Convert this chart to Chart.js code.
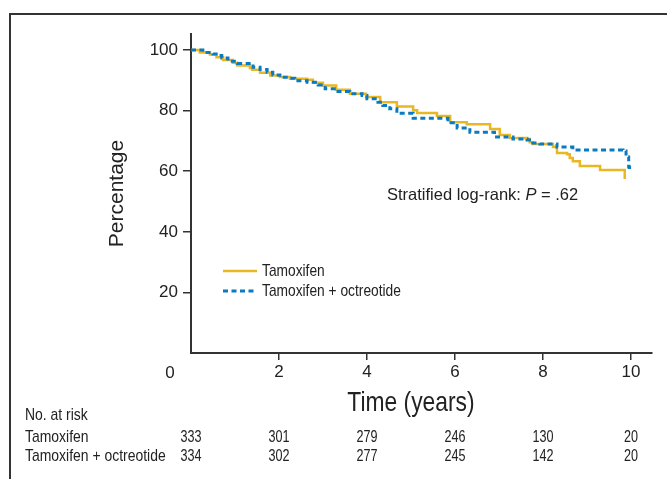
<!DOCTYPE html>
<html>
<head>
<meta charset="utf-8">
<script src="https://cdn.jsdelivr.net/npm/chart.js@4.4.1/dist/chart.umd.min.js"></script>
<style>
  html, body { margin: 0; padding: 0; background: #fff; }
  #wrap { width: 667px; height: 479px; }
</style>
</head>
<body>
<div id="wrap"><canvas id="km" width="667" height="479"></canvas></div>
<script>
'use strict';

// Kaplan-Meier steps: time (years) -> percentage
let tamT = [0, 0.2, 0.43, 0.58, 0.73, 0.95, 1.05, 1.34, 1.39, 1.57, 1.8, 2.02, 2.25, 2.64, 2.77, 3.0, 3.3, 3.61, 3.98, 4.3, 4.68, 5.05, 5.14, 5.59, 5.89, 6.27, 6.8, 7.02, 7.25, 7.64, 7.7, 7.77, 8.23, 8.32, 8.55, 8.61, 8.68, 8.84, 9.3, 9.86]
let tamV = [100, 99.2, 98.5, 97.6, 96.7, 95.8, 94.9, 94.1, 93.5, 92.5, 91.6, 91.1, 90.5, 90.2, 89.2, 88.3, 86.9, 85.6, 84.5, 82.8, 81.4, 80.1, 79.2, 78.2, 76.2, 75.5, 73.9, 72.0, 71.0, 70.6, 69.6, 69.0, 68.0, 66.0, 65.6, 64.4, 63.3, 61.7, 60.4, 57.4]

let octT = [0, 0.27, 0.5, 0.61, 0.7, 0.84, 1.05, 1.39, 1.41, 1.57, 1.73, 1.86, 2.02, 2.25, 2.36, 2.64, 2.89, 3.05, 3.3, 3.61, 3.89, 4.0, 4.25, 4.36, 4.52, 4.68, 5.05, 5.84, 6.05, 6.34, 6.9, 7.32, 7.64, 7.77, 7.93, 8.32, 8.68, 9.82, 9.89, 9.95, 9.97]
let octV = [100, 99.2, 98.7, 98.2, 97.4, 96.3, 95.6, 95.4, 94.3, 93.6, 92.7, 91.8, 91.0, 90.7, 89.9, 89.4, 88.5, 87.2, 86.3, 85.6, 85.0, 83.9, 82.8, 81.7, 80.6, 79.1, 77.5, 76.0, 74.3, 72.9, 71.3, 70.6, 70.3, 69.3, 69.0, 68.0, 67.0, 66.7, 64.7, 61.4, 60.0]

let xTicks = [2, 4, 6, 8, 10]
let yTicks = [20, 40, 60, 80, 100]

// number at risk table
let riskTimes = [0, 2, 4, 6, 8, 10]
let riskTam = [333, 301, 279, 246, 130, 20]
let riskOct = [334, 302, 277, 245, 142, 20]

let names = ['Tamoxifen', 'Tamoxifen + octreotide']
let pText = ['Stratified log-rank: ', 'P', ' = .62']

const SANS = "'Liberation Sans', Arial, sans-serif"
const YELLOW = '#e9b722'
const BLUE = '#0a7bc2'
const INK = '#333'
const TXT = '#222'

function pts(ts, vs) {
    let out = []
    for (let i = 0; i < ts.length; i++) {
        out.push({x: ts[i], y: vs[i]})
    }
    return out
}

// condensed look: regular face squeezed horizontally
function narrowText(ctx, text, x, y, size, squeeze, align) {
    ctx.save()
    ctx.font = size + 'px ' + SANS
    ctx.textAlign = align || 'left'
    ctx.textBaseline = 'middle'
    ctx.translate(x, y)
    ctx.scale(squeeze, 1)
    ctx.fillText(text, 0, 0)
    ctx.restore()
}

let extras = {
    id: 'extras',
    beforeDraw: function (chart) {
        let ctx = chart.ctx
        // figure frame (left and top only)
        ctx.save()
        ctx.strokeStyle = INK
        ctx.lineWidth = 2
        ctx.beginPath()
        ctx.moveTo(10, 479)
        ctx.lineTo(10, 14)
        ctx.lineTo(667, 14)
        ctx.stroke()
        ctx.restore()
    },
    afterDraw: function (chart) {
        let ctx = chart.ctx
        let xs = chart.scales.x
        let ys = chart.scales.y
        ctx.save()
        ctx.fillStyle = TXT

        // the "0" label sits left of the origin
        ctx.font = '17px ' + SANS
        ctx.textAlign = 'center'
        ctx.textBaseline = 'middle'
        ctx.fillText('0', xs.getPixelForValue(0) - 21, 373)

        // x axis title
        narrowText(ctx, 'Time (years)', xs.getPixelForValue(5), 403, 28, 0.815, 'center')

        // legend
        let lx = 223
        let ly = [271, 291]
        let ds = chart.data.datasets
        for (let i = 0; i < 2; i++) {
            let d = ds[i]
            ctx.strokeStyle = d.borderColor
            ctx.lineWidth = d.borderWidth
            ctx.setLineDash(d.borderDash || [])
            ctx.beginPath()
            ctx.moveTo(lx, ly[i])
            ctx.lineTo(lx + 34, ly[i])
            ctx.stroke()
            ctx.setLineDash([])
            narrowText(ctx, d.label, lx + 39, ly[i], 17, 0.81, 'left')
        }

        // log-rank annotation
        let ax = 387
        let ay = 195
        ctx.textAlign = 'left'
        ctx.font = '16.5px ' + SANS
        ctx.fillText(pText[0], ax, ay)
        ax += ctx.measureText(pText[0]).width
        ctx.font = 'italic 16.5px ' + SANS
        ctx.fillText(pText[1], ax, ay)
        ax += ctx.measureText(pText[1]).width
        ctx.font = '16.5px ' + SANS
        ctx.fillText(pText[2], ax, ay)

        // number at risk
        let rowY = [437, 456]
        narrowText(ctx, 'No. at risk', 25, 415, 17, 0.82, 'left')
        narrowText(ctx, names[0], 25, rowY[0], 17, 0.82, 'left')
        narrowText(ctx, names[1], 25, rowY[1], 17, 0.82, 'left')
        for (let i = 0; i < riskTimes.length; i++) {
            let px = xs.getPixelForValue(riskTimes[i])
            narrowText(ctx, String(riskTam[i]), px, rowY[0], 17, 0.74, 'center')
            narrowText(ctx, String(riskOct[i]), px, rowY[1], 17, 0.74, 'center')
        }
        ctx.restore()
    }
}

let data_1 = {
    datasets: [
        {
            label: names[0],
            data: pts(tamT, tamV),
            borderColor: YELLOW,
            borderWidth: 2.5,
            stepped: 'before',
            pointRadius: 0,
            fill: false,
            order: 2
        },
        {
            label: names[1],
            data: pts(octT, octV),
            borderColor: BLUE,
            borderWidth: 3,
            borderDash: [5, 3.5],
            stepped: 'before',
            pointRadius: 0,
            fill: false,
            order: 1
        }
    ]
}

let options = {
    responsive: false,
    animation: false,
    layout: {
        padding: {left: 100, right: 15, top: 34, bottom: 58}
    },
    plugins: {
        legend: {display: false},
        tooltip: {enabled: false}
    },
    scales: {
        x: {
            type: 'linear',
            min: 0,
            max: 10.48,
            afterBuildTicks: function (scale) {
                scale.ticks = xTicks.map(v => ({value: v}))
            },
            afterFit: function (scale) {
                scale.height = 68
            },
            border: {display: true, color: INK, width: 2},
            grid: {drawOnChartArea: false, drawTicks: true, tickLength: 7, color: INK, lineWidth: 1.5},
            ticks: {
                color: TXT,
                padding: 2,
                maxRotation: 0,
                font: {family: SANS, size: 17}
            }
        },
        y: {
            type: 'linear',
            min: 0,
            max: 105.3,
            afterBuildTicks: function (scale) {
                scale.ticks = yTicks.map(v => ({value: v}))
            },
            afterFit: function (scale) {
                scale.width = 91
            },
            border: {display: true, color: INK, width: 2},
            grid: {drawOnChartArea: false, drawTicks: true, tickLength: 8, color: INK, lineWidth: 1.5},
            ticks: {
                color: TXT,
                padding: 5,
                font: {family: SANS, size: 17}
            },
            title: {
                display: true,
                text: 'Percentage',
                color: TXT,
                padding: {top: 5, bottom: 0},
                font: {family: SANS, size: 21}
            }
        }
    }
}

let kmCanvas = document.getElementById('km').getContext('2d')
let kmChart = new Chart(kmCanvas, {
    type: 'line',
    data: data_1,
    options: options,
    plugins: [extras]
})
</script>
</body>
</html>
